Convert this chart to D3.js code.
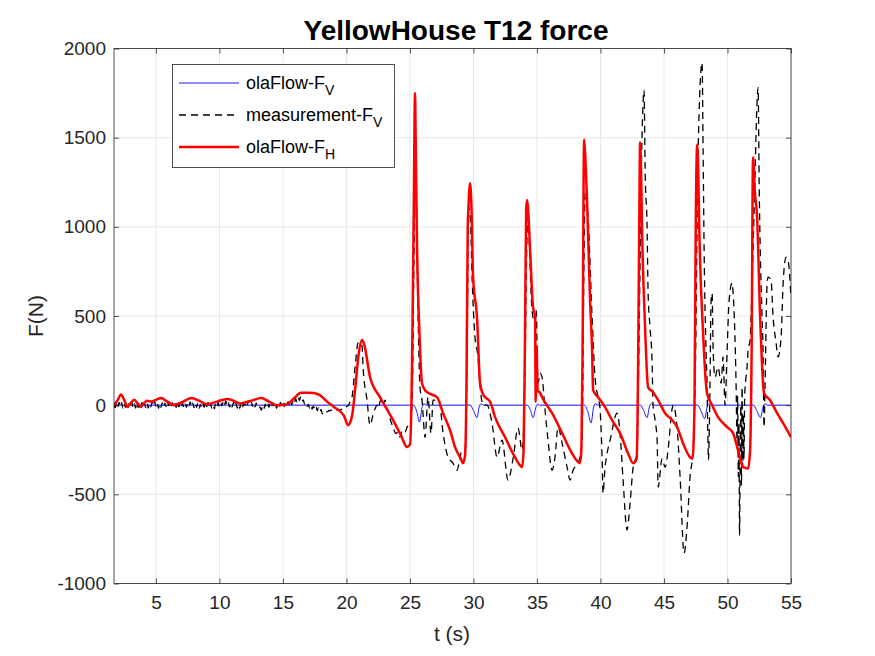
<!DOCTYPE html>
<html><head><meta charset="utf-8">
<script src="https://cdn.jsdelivr.net/npm/d3@7"></script>
<style>
body{margin:0;background:#fff}
text{font-family:Arial,"Liberation Sans",Helvetica,sans-serif}
</style>
</head><body>
<svg id="c" width="875" height="656"></svg>
<script>
const xTicks=[5,10,15,20,25,30,35,40,45,50,55];
const yTicks=[-1000,-500,0,500,1000,1500,2000];
const xDomain=[1.7,55], yDomain=[-1000,2000];
const titleText="YellowHouse T12 force";
const xLabel="t (s)", yLabel="F(N)";
const legendNames=[["olaFlow-F","V"],["measurement-F","V"],["olaFlow-F","H"]];

// olaFlow-F_H (red)
const tH=[1.7,2.0,2.25,2.5,2.75,3.0,3.3,3.55,3.8,4.05,4.3,4.6,5.0,5.4,5.9,6.4,7.0,7.8,8.4,9.0,9.8,10.6,11.1,11.6,12.5,13.3,13.9,14.5,15.3,15.9,16.4,17.0,17.4,17.9,18.47,19.02,19.81,20.13,20.44,20.7,20.95,21.23,21.4,21.86,22.64,23.67,24.3,24.77,25.01,25.16,25.3,25.4,25.45,25.56,25.75,25.95,26.19,26.35,26.7,27.13,27.61,28.2,28.55,29.0,29.18,29.34,29.45,29.55,29.6,29.73,29.85,29.97,30.28,30.52,30.76,30.91,31.31,31.7,32.49,33.27,33.7,33.83,33.95,34.06,34.15,34.22,34.3,34.46,34.69,34.85,34.9,34.97,35.05,35.24,35.4,35.87,36.19,36.98,37.76,38.39,38.5,38.6,38.71,38.8,38.94,39.18,39.34,39.42,39.81,40.36,40.91,41.54,42.17,42.57,42.85,42.96,43.05,43.12,43.2,43.27,43.51,43.75,44.14,44.54,45.09,45.64,46.03,46.5,47.05,47.25,47.4,47.5,47.61,47.7,47.76,48.08,48.39,48.79,49.26,49.97,50.44,50.83,51.23,51.62,51.78,51.9,52.01,52.15,52.33,52.57,52.88,53.35,53.91,54.38,55.0];
const fH=[0,30,60,30,-10,10,30,10,-10,10,25,20,30,40,20,0,15,40,25,5,20,35,25,10,25,40,20,0,5,40,70,70,68,56,20,-10,-60,-112,-60,100,280,365,340,157,45,-84,-170,-235,-220,200,1100,1750,1500,886,400,123,84,73,60,45,-45,-150,-235,-300,-325,-280,100,1000,1100,1245,1100,718,494,123,60,45,20,-67,-180,-292,-340,-348,-250,400,1100,1150,1100,870,550,500,20,330,80,70,45,-10,-45,-157,-270,-325,-250,400,1490,1400,1150,589,308,84,45,-11,-84,-157,-270,-325,-300,200,1000,1475,1300,1000,440,100,73,28,-45,-84,-123,-213,-292,-300,0,1000,1460,1300,1055,404,67,0,-67,-123,-157,-252,-348,-355,-252,300,1390,1200,1055,494,67,28,-45,-101,-180];

// olaFlow-F_V (blue)
const tV=[1.7,25.3,25.55,25.75,25.95,26.1,26.3,29.75,30.0,30.28,30.45,30.6,30.8,34.25,34.5,34.7,34.9,35.05,35.2,38.75,39.0,39.26,39.45,39.6,39.8,43.15,43.4,43.67,43.85,44.0,44.2,47.65,47.9,48.2,48.4,48.55,48.75,52.05,52.3,52.6,52.8,52.95,53.15,55.0];
const fV=[0,0,-40,-95,-15,8,0,0,-30,-70,-10,8,0,0,-30,-70,-15,5,0,0,-35,-100,-15,8,0,0,-30,-70,-10,8,0,0,-30,-75,-10,8,0,0,-30,-70,-10,8,0,0];

// measurement-F_V (black dashed)
const tM=[1.7,1.8,1.9,
2.0,2.1,2.2,2.3,2.4,2.5,2.6,2.7,2.8,2.9,
3.0,3.1,3.2,3.3,3.4,3.5,3.6,3.7,3.8,3.9,
4.0,4.1,4.2,4.3,4.4,4.5,4.6,4.7,4.8,4.9,
5.0,5.1,5.2,5.3,5.4,5.5,5.6,5.7,5.8,5.9,
6.0,6.1,6.2,6.3,6.4,6.5,6.6,6.7,6.8,6.9,
7.0,7.1,7.2,7.3,7.4,7.5,7.6,7.7,7.8,7.9,
8.0,8.1,8.2,8.3,8.4,8.5,8.6,8.7,8.8,8.9,
9.0,9.1,9.2,9.3,9.4,9.5,9.6,9.7,9.8,9.9,
10.0,10.1,10.2,10.3,10.4,10.5,10.6,10.7,10.8,10.9,
11.0,11.1,11.2,11.3,11.4,11.5,11.6,11.7,11.8,11.9,
12.0,12.1,12.2,12.3,12.4,12.5,12.6,12.7,12.8,12.9,
13.0,13.1,13.2,13.3,13.4,13.5,13.6,13.7,13.8,13.9,
14.0,14.1,14.2,14.3,14.4,14.5,14.6,14.7,14.8,14.9,
15.0,15.1,15.2,15.3,15.4,15.5,15.6,15.7,15.8,15.9,
16.0,16.1,16.2,16.3,16.4,16.5,16.6,16.7,16.8,16.9,
17.0,17.1,17.2,17.3,17.4,17.5,17.6,17.7,17.8,17.9,
18.0,18.1,18.2,18.3,18.4,18.5,18.6,18.7,18.8,18.9,
19.0,19.1,19.2,19.3,19.4,19.5,19.6,19.7,19.8,19.9,
20.0,20.1,20.2,20.3,20.44,20.68,20.91,21.07,21.23,21.31,21.62,21.86,22.09,22.25,22.41,22.49,22.65,22.8,22.92,23.04,23.15,23.27,23.45,23.67,23.9,24.05,24.22,24.4,24.61,24.8,25.01,25.16,25.35,25.45,25.55,25.7,25.79,25.95,26.19,26.42,26.66,26.82,27.13,27.29,27.61,28.0,28.39,28.71,28.94,29.1,29.34,29.5,29.62,29.75,29.9,30.1,30.36,30.6,30.76,31.07,31.46,31.86,32.25,32.72,33.12,33.51,33.83,34.06,34.2,34.3,34.45,34.61,34.85,34.95,35.01,35.09,35.24,35.4,35.64,35.87,36.19,36.42,36.66,36.98,37.37,37.61,37.84,38.24,38.55,38.7,38.79,38.9,39.02,39.34,39.57,39.81,39.95,40.13,40.2,40.36,40.52,40.76,41.31,41.54,41.78,42.09,42.33,42.57,42.88,43.0,43.27,43.43,43.52,43.67,43.75,43.9,44.06,44.14,44.3,44.46,44.54,44.85,45.09,45.32,45.64,45.72,46.03,46.27,46.58,46.82,47.05,47.29,47.45,47.69,48.0,48.08,48.16,48.31,48.39,48.45,48.5,48.55,48.62,48.71,48.79,48.87,49.02,49.26,49.5,49.65,49.81,49.97,50.13,50.36,50.44,50.68,50.75,50.8,50.85,50.9,50.95,51.0,51.05,51.1,51.15,51.2,51.25,51.3,51.35,51.45,51.54,51.62,51.78,51.94,52.1,52.41,52.5,52.57,52.72,52.8,52.88,52.96,53.12,53.2,53.43,53.59,53.83,53.98,54.22,54.38,54.61,54.77,55.0];
const fM=[0,-14,12,
-10,16,-8,14,-16,8,-12,15,-11,12,
-9,18,-14,8,-16,12,-13,11,-12,16,
-12,10,-14,12,-16,9,-10,16,-4,20,
-6,14,-18,8,-12,13,-11,12,-8,18,
-2,22,-4,14,-14,8,-12,16,-10,11,
-10,12,-16,6,-12,14,-4,18,-8,12,
-14,10,-12,12,-18,4,-14,10,-12,12,
-8,16,-10,8,-18,0,-20,10,-8,14,
-11,12,-4,20,0,24,-2,16,-10,10,
-10,14,-8,10,-16,4,-18,10,-14,8,
0,20,2,26,4,20,-6,12,-10,12,
-12,-6,-12,-28,-4,-20,6,-10,10,-12,
12,-6,14,-12,6,-18,8,-8,16,-2,
14,-8,12,-4,20,2,22,2,28,10,
36,18,44,26,48,22,30,6,16,-6,
4,-16,0,-22,-6,-26,-10,-30,-16,-38,
-24,-48,-40,-46,-36,-38,-30,-32,-26,-30,
-28,-32,-26,-28,-24,-30,-24,-24,-16,-18,
-8,-4,4,20,45,213,348,353,330,213,28,-112,-56,-20,0,-17,20,39,10,28,-10,-28,-80,-123,-160,-150,-180,-140,-151,-120,-112,0,1000,1350,900,300,100,28,-180,45,-157,28,28,28,-157,-292,-325,-365,-292,-252,-252,300,1110,1050,700,400,270,50,0,0,-100,-292,-196,-420,-300,-129,-252,200,900,1050,800,533,460,530,300,123,180,157,-30,-196,-365,-292,-123,-213,-348,-420,-365,-325,-200,800,1190,1150,1055,494,157,45,-10,-300,-494,-350,-270,-196,-45,-157,-420,-700,-550,-348,-270,200,1500,1767,1300,1000,628,438,252,0,-84,-196,-460,-300,-348,-252,-20,0,-123,-404,-830,-680,-404,-252,100,1430,1920,1430,870,308,120,-157,-308,-200,100,590,628,308,157,213,123,270,0,308,590,685,630,100,-200,50,-400,-100,-730,-300,0,-450,100,-350,-50,-300,50,150,213,308,365,685,1100,1780,1200,900,500,308,-123,123,685,718,700,494,348,270,381,685,830,813,600];

const m={l:114,r:791,t:48.5,b:583.5};
const x=d3.scaleLinear().domain(xDomain).range([m.l,m.r]);
const y=d3.scaleLinear().domain(yDomain).range([m.b,m.t]);
const svg=d3.select('#c');
const axisCol="#262626";
const font='Arial,"Liberation Sans",sans-serif';

svg.append('rect').attr('x',0).attr('y',0).attr('width',875).attr('height',656).attr('fill','#fff');

// grid
const grid=svg.append('g').attr('stroke','#dfdfdf').attr('stroke-width',0.7);
grid.selectAll('.gx').data(xTicks).join('line').attr('x1',d=>x(d)).attr('x2',d=>x(d)).attr('y1',m.t).attr('y2',m.b);
grid.selectAll('.gy').data(yTicks).join('line').attr('y1',d=>y(d)).attr('y2',d=>y(d)).attr('x1',m.l).attr('x2',m.r);

// clip
svg.append('clipPath').attr('id','clip').append('rect').attr('x',m.l).attr('y',m.t).attr('width',m.r-m.l).attr('height',m.b-m.t);
const plot=svg.append('g').attr('clip-path','url(#clip)');
const zip=(a,b)=>a.map((v,i)=>[v,b[i]]);
const line=d3.line().x(d=>x(d[0])).y(d=>y(d[1])).curve(d3.curveMonotoneX);

plot.append('path').datum(zip(tV,fV)).attr('d',line).attr('fill','none').attr('stroke','#0000ff').attr('stroke-width',0.9);
plot.append('path').datum(zip(tM,fM)).attr('d',line).attr('fill','none').attr('stroke','#000').attr('stroke-width',1.3).attr('stroke-dasharray','7,5');
plot.append('path').datum(zip(tH,fH)).attr('d',line).attr('fill','none').attr('stroke','#ff0000').attr('stroke-width',2.5).attr('stroke-linejoin','round');

// axes
const fs='19px';
const ax=svg.append('g').attr('transform',`translate(0,${m.b})`).call(d3.axisBottom(x).tickValues(xTicks).tickSizeInner(-5).tickSizeOuter(0).tickPadding(12).tickFormat(d=>String(d)));
const ay=svg.append('g').attr('transform',`translate(${m.l},0)`).call(d3.axisLeft(y).tickValues(yTicks).tickSizeInner(-5).tickSizeOuter(0).tickPadding(8).tickFormat(d=>String(d)));
const at=svg.append('g').attr('transform',`translate(0,${m.t})`).call(d3.axisTop(x).tickValues(xTicks).tickSizeInner(-5).tickSizeOuter(0).tickFormat(''));
const ar=svg.append('g').attr('transform',`translate(${m.r},0)`).call(d3.axisRight(y).tickValues(yTicks).tickSizeInner(-5).tickSizeOuter(0).tickFormat(''));
[ax,ay,at,ar].forEach(g=>{g.select('.domain').remove();g.selectAll('line').attr('stroke',axisCol).attr('stroke-width',0.8);g.selectAll('text').attr('fill',axisCol).style('font-size',fs).style('font-family',font);});
svg.append('rect').attr('x',m.l).attr('y',m.t).attr('width',m.r-m.l).attr('height',m.b-m.t).attr('fill','none').attr('stroke',axisCol).attr('stroke-width',0.8);

// labels
svg.append('text').attr('x',452).attr('y',641).attr('text-anchor','middle').style('font-size','21px').attr('fill',axisCol).text(xLabel);
svg.append('text').attr('transform','translate(43,316) rotate(-90)').attr('text-anchor','middle').style('font-size','21px').attr('fill',axisCol).text(yLabel);
svg.append('text').attr('x',456).attr('y',40).attr('text-anchor','middle').style('font-size','28px').style('font-weight','bold').attr('fill','#000').text(titleText);

// legend
const lg=svg.append('g');
lg.append('rect').attr('x',172.5).attr('y',64.5).attr('width',222).attr('height',103).attr('fill','#fff').attr('stroke',axisCol).attr('stroke-width',0.8);
const lstyles=[{c:'#0000ff',w:0.9,da:null},{c:'#000',w:1.3,da:'7,5'},{c:'#ff0000',w:2.5,da:null}];
const ly=[83,115,147];
legendNames.forEach((n,i)=>{
  const l=lg.append('line').attr('x1',179).attr('x2',239).attr('y1',ly[i]).attr('y2',ly[i]).attr('stroke',lstyles[i].c).attr('stroke-width',lstyles[i].w);
  if(lstyles[i].da) l.attr('stroke-dasharray',lstyles[i].da);
  const t=lg.append('text').attr('x',246).attr('y',ly[i]+6).style('font-size','18px').attr('fill','#000');
  t.append('tspan').text(n[0]);
  t.append('tspan').attr('dy',6).style('font-size','14px').text(n[1]);
});
</script>
</body></html>
